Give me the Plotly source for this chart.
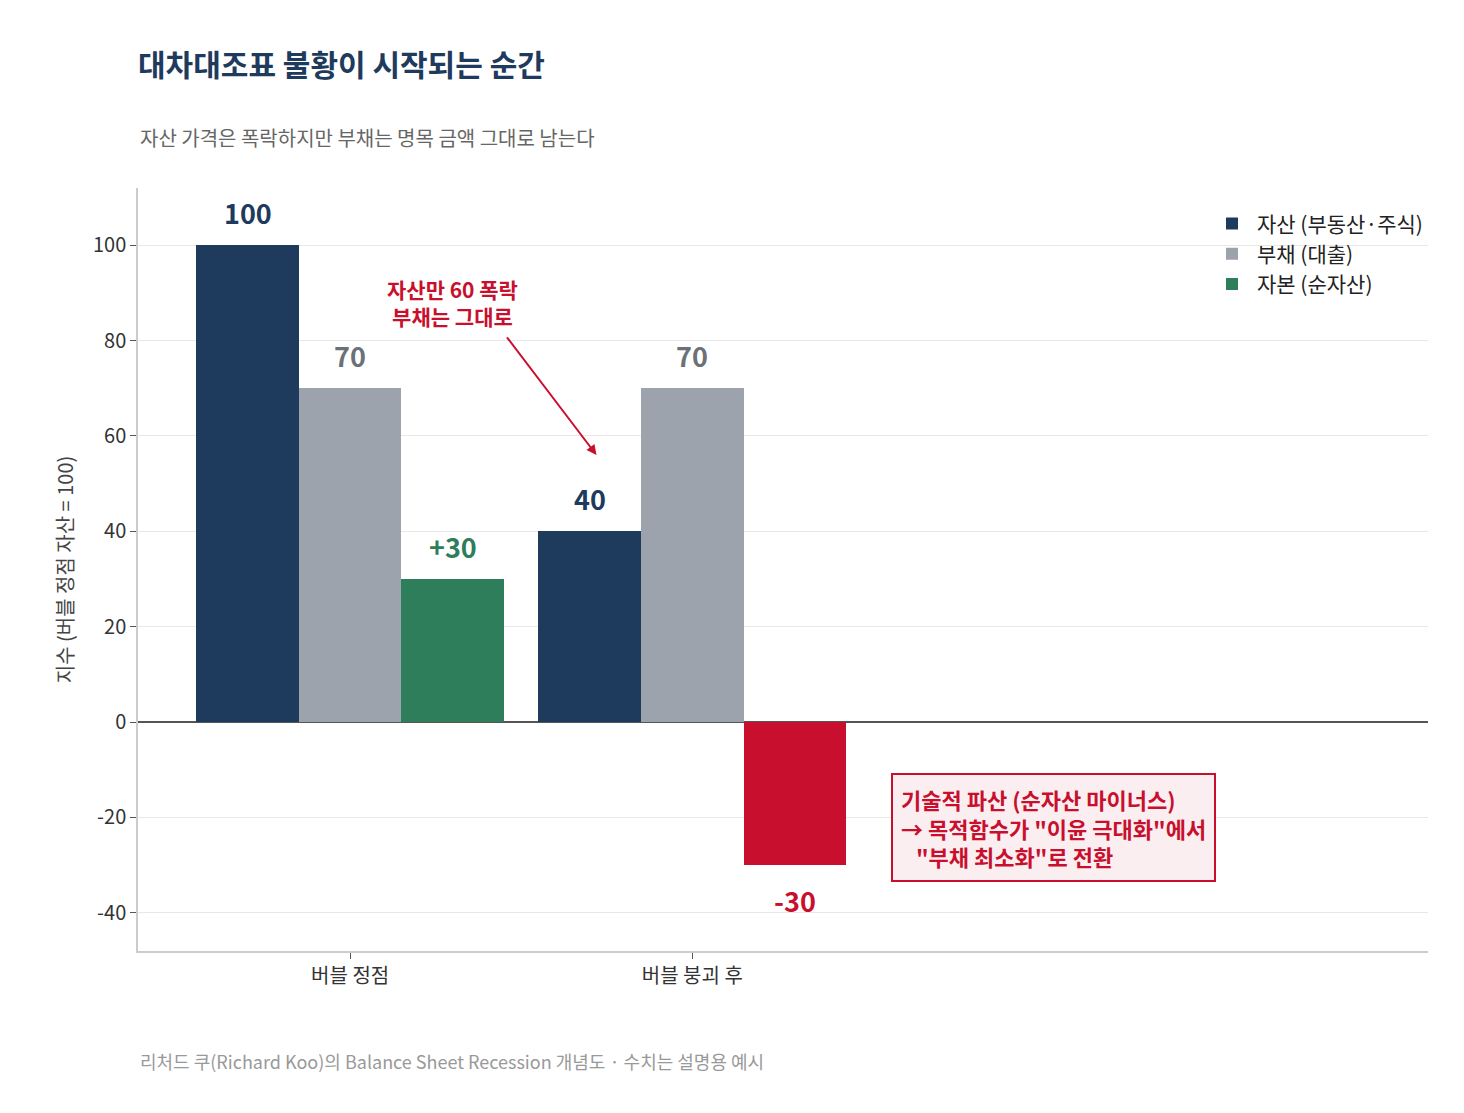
import plotly.graph_objects as go

categories = ["버블 정점", "버블 붕괴 후"]
assets = [100, 40]
debt = [70, 70]
equity = [30, -30]
yticks = [-40, -20, 0, 20, 40, 60, 80, 100]

series_names = ["자산 (부동산·주식)", "부채 (대출)", "자본 (순자산)"]
NAVY = "#1e3a5c"
GRAY = "#9ca3ac"
GREEN = "#2e7d5b"
RED = "#c8102e"
FONT = "Noto Sans CJK KR"

w = 0.3
xs = list(range(len(categories)))

fig = go.Figure()
eq_colors = [GREEN if v >= 0 else RED for v in equity]
for i, (name, vals, col) in enumerate([(series_names[0], assets, NAVY),
                                        (series_names[1], debt, GRAY),
                                        (series_names[2], equity, eq_colors)]):
    fig.add_trace(go.Bar(x=[x + (i - 1) * w for x in xs], y=vals, width=w, name=name,
                         marker=dict(color=col, line=dict(width=0)), hoverinfo="y"))

anns = []
for i, (vals, cols) in enumerate([(assets, [NAVY] * 2), (debt, ["#6b7079"] * 2),
                                   (equity, eq_colors)]):
    for x, v, c in zip(xs, vals, cols):
        txt = (f"+{v}" if (i == 2 and v > 0) else str(v))
        anns.append(dict(x=x + (i - 1) * w, y=v, text=f"<b>{txt}</b>", showarrow=False,
                         yshift=33 if v >= 0 else -35, xanchor="center",
                         font=dict(size=27, color=c, family=FONT)))

anns.append(dict(x=0.3, y=88, text="<b>자산만 60 폭락<br>부채는 그대로</b>", showarrow=False,
                 font=dict(size=21, color=RED, family=FONT), align="center"))
anns.append(dict(x=0.72, y=56, ax=0.455, ay=81, axref="x", ayref="y", xref="x", yref="y",
                 text="", showarrow=True, arrowhead=2, arrowwidth=2, arrowcolor=RED,
                 standoff=0, startstandoff=0))
anns.append(dict(x=1.58, y=-22, xanchor="left", yanchor="middle",
                 text="<b>기술적 파산 (순자산 마이너스)<br>→ 목적함수가 \"이윤 극대화\"에서<br>   \"부채 최소화\"로 전환</b>",
                 showarrow=False, align="left", font=dict(size=22, color=RED, family=FONT),
                 bgcolor="#fbeef0", bordercolor=RED, borderwidth=2, borderpad=8))
anns.append(dict(xref="paper", yref="paper", x=0, y=-0.125, xanchor="left", yanchor="top",
                 text="리처드 쿠(Richard Koo)의 Balance Sheet Recession 개념도 · 수치는 설명용 예시",
                 showarrow=False, font=dict(size=18, color="#999999", family=FONT)))
anns.append(dict(xref="paper", yref="paper", x=0, y=1.045, xanchor="left", yanchor="bottom",
                 text="자산 가격은 폭락하지만 부채는 명목 금액 그대로 남는다",
                 showarrow=False, font=dict(size=20, color="#666666", family=FONT)))

fig.update_layout(
    width=1464, height=1113,
    paper_bgcolor="white", plot_bgcolor="white",
    font=dict(family=FONT, size=19, color="#444444"),
    title=dict(text="<b>대차대조표 불황이 시작되는 순간</b>", x=130 / 1464, xanchor="left",
               y=0.948, yanchor="middle", font=dict(size=30, color=NAVY, family=FONT)),
    margin=dict(l=130, r=44, t=180, b=170, autoexpand=False),
    barmode="overlay", bargap=0,
    showlegend=True,
    legend=dict(x=1, y=0.98, xanchor="right", yanchor="top", bgcolor="rgba(255,255,255,0)",
                font=dict(size=21, color="#222222"), itemwidth=40, tracegroupgap=4),
    annotations=anns,
    xaxis=dict(range=[-0.62, 3.15], tickvals=xs, ticktext=categories, showgrid=False,
               zeroline=False, showline=True, linecolor="#cccccc", linewidth=1.5,
               ticks="outside", ticklen=6, tickcolor="#555555", automargin=False,
               tickfont=dict(size=20, color="#333333")),
    yaxis=dict(range=[-48, 112], tickvals=yticks, ticktext=[str(t) for t in yticks],
               showgrid=True, automargin=False,
               gridcolor="#e8e8e8", zeroline=True, zerolinecolor="#555555", zerolinewidth=2,
               showline=True, linecolor="#cccccc", linewidth=1.5, ticks="outside",
               ticklen=6, tickcolor="#555555", tickfont=dict(size=20, color="#333333"),
               title=dict(text="지수 (버블 정점 자산 = 100)", font=dict(size=20, color="#444444"),
                          standoff=14)),
)

fig.write_html("out.html")
